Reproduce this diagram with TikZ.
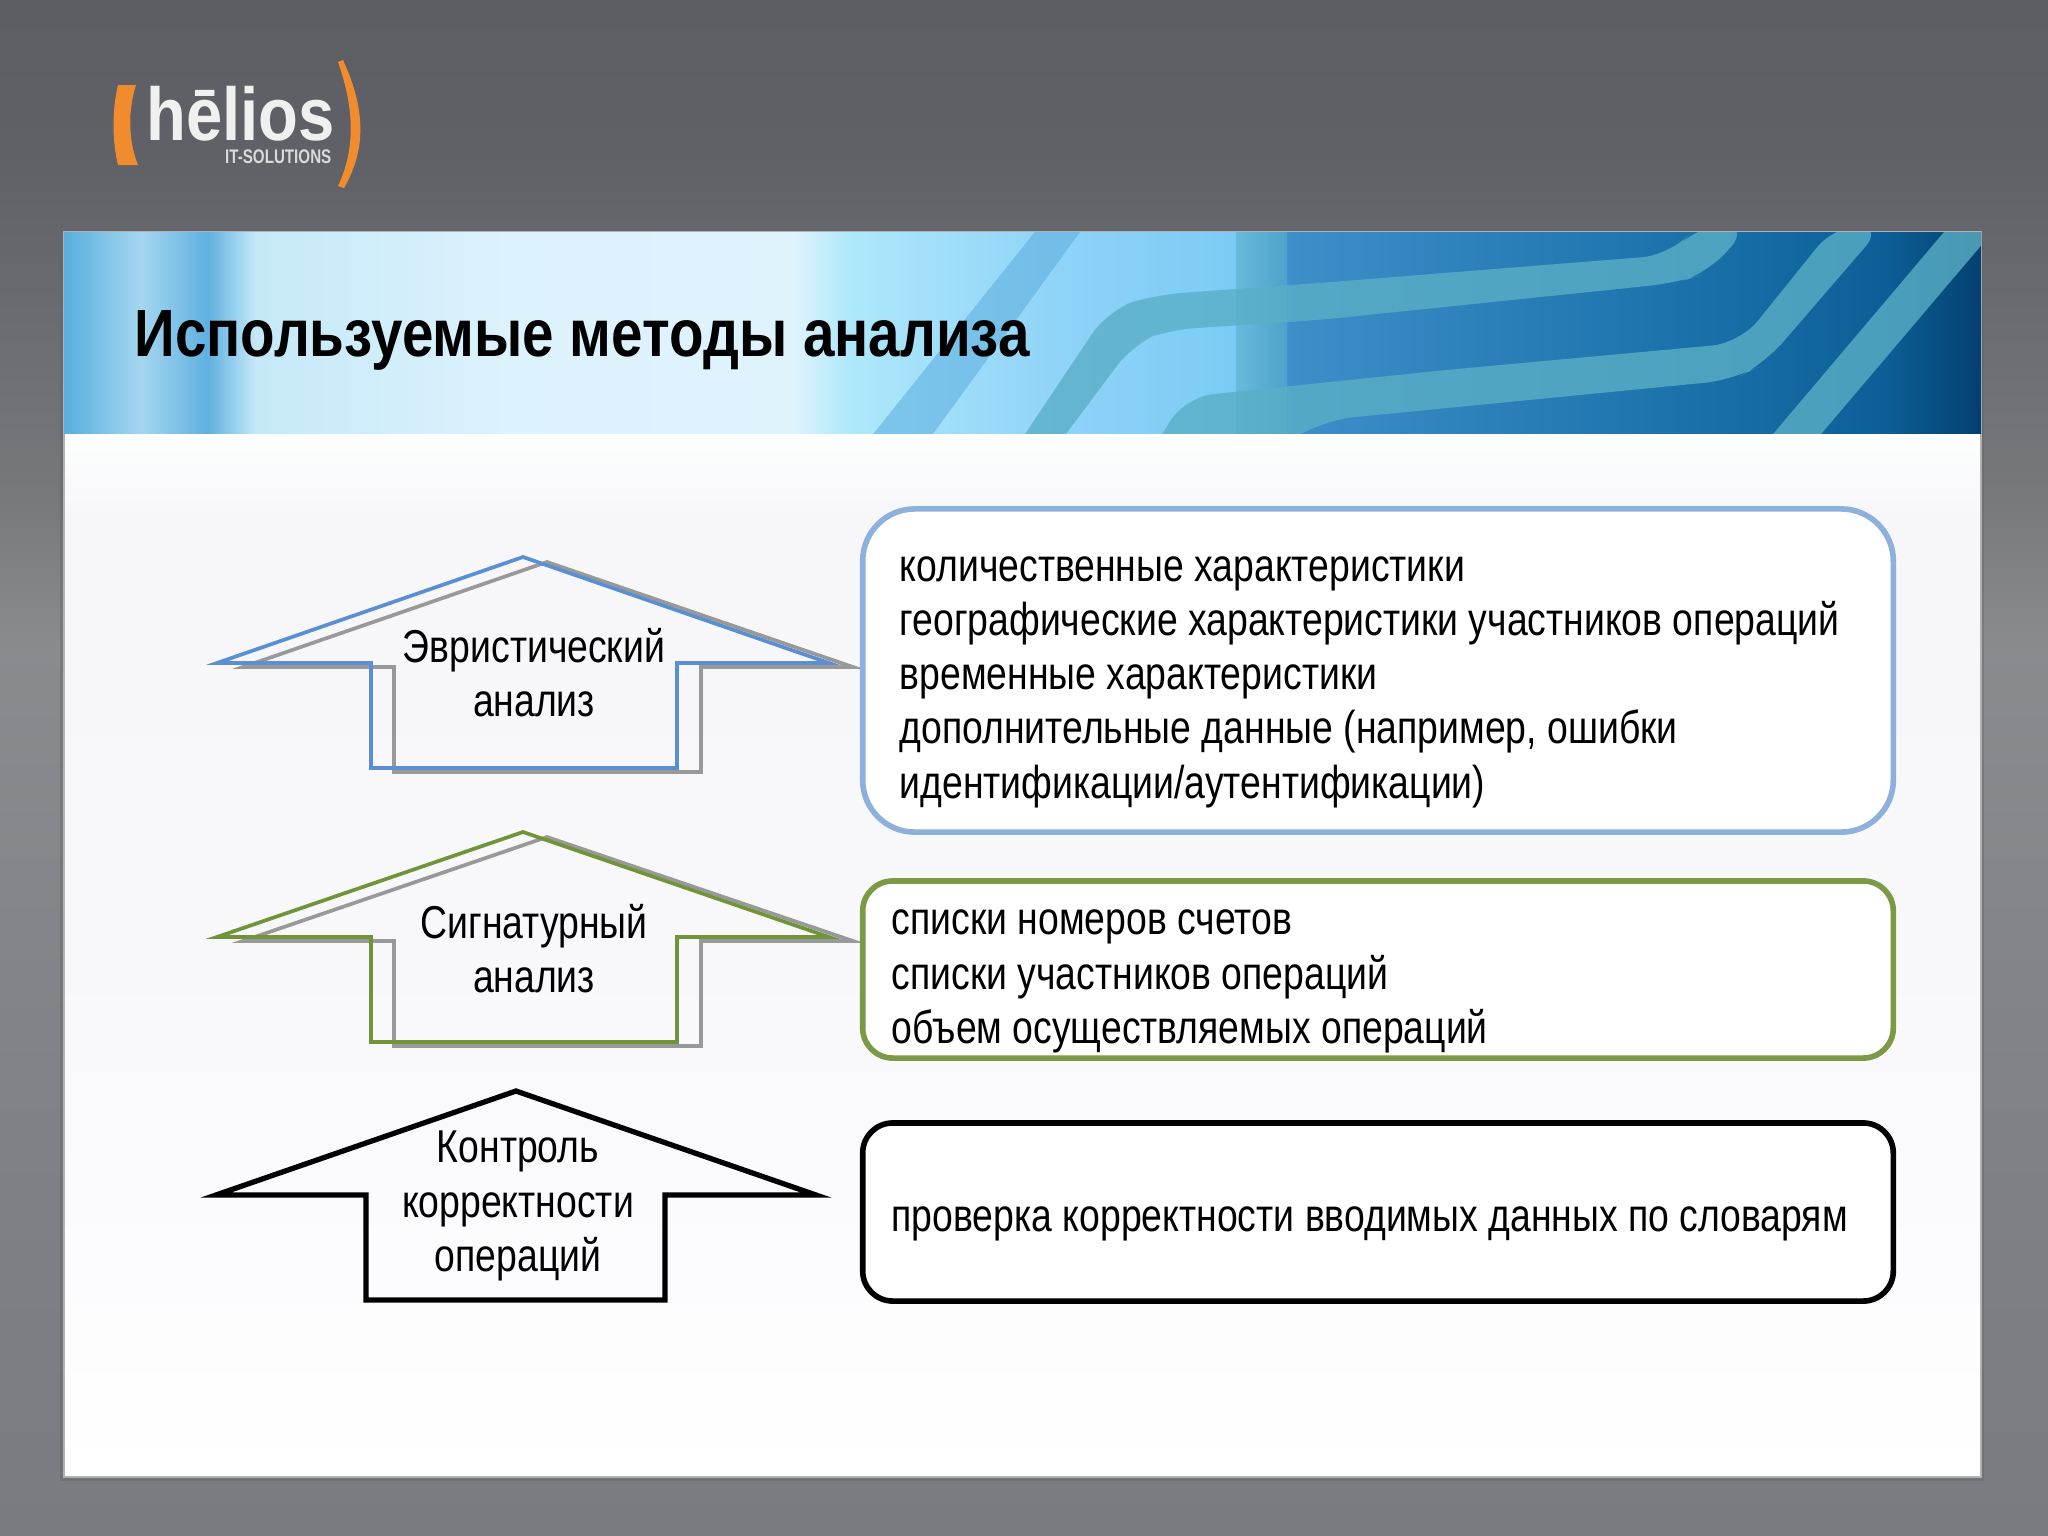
\documentclass[tikz,border=0pt]{standalone}
\usepackage{fontspec}
\setmainfont{Liberation Sans}
\newfontfamily\narrowfont[FakeStretch=0.811]{Liberation Sans}
\newfontfamily\titlefont[FakeStretch=0.846]{Liberation Sans}
\newfontfamily\logofont[FakeStretch=0.87]{Liberation Sans}
\newfontfamily\logosubfont[FakeStretch=0.77]{Liberation Sans}
\usetikzlibrary{positioning}

\definecolor{boxblue}{HTML}{8EB0DD}
\definecolor{arrowblue}{HTML}{5A8FD4}
\definecolor{boxgreen}{HTML}{7A9A45}
\definecolor{arrowgreen}{HTML}{6F9439}
\definecolor{shadowgray}{HTML}{999999}
\definecolor{logoorange}{HTML}{F08C2E}
\definecolor{bandteal}{HTML}{5AAFC6}
\definecolor{bga}{HTML}{7A7B80}
\definecolor{bgb}{HTML}{818287}
\definecolor{bgc}{HTML}{8A8B8F}
\definecolor{bgd}{HTML}{77787C}
\definecolor{bge}{HTML}{606166}
\definecolor{bgf}{HTML}{5C5E63}
\definecolor{pna}{HTML}{FCFCFE}
\definecolor{pnb}{HTML}{F8F8FA}
\definecolor{pnc}{HTML}{F7F7F9}
\definecolor{pnd}{HTML}{FDFEFE}
\definecolor{bna}{HTML}{58AEDD}
\definecolor{bnb}{HTML}{A5D6F0}
\definecolor{bnc}{HTML}{5FB0E0}
\definecolor{bnd}{HTML}{C5E9F8}
\definecolor{bne}{HTML}{DCF2FC}
\definecolor{bnf}{HTML}{DFF3FD}
\definecolor{bng}{HTML}{AEE8FA}
\definecolor{bnh}{HTML}{8FD3F8}
\definecolor{bni}{HTML}{7CCBF5}
\definecolor{bnj}{HTML}{3D8FCA}
\definecolor{bnk}{HTML}{1A71AA}
\definecolor{bnl}{HTML}{0C5F96}
\definecolor{bnm}{HTML}{044070}

\pgfdeclareverticalshading{slidebg}{100bp}{
	color(0bp)=(bga); color(25bp)=(bga); color(40bp)=(bgb); color(54bp)=(bgc);
	color(59bp)=(bgd); color(70bp)=(bge); color(75bp)=(bgf); color(100bp)=(bgf)}
\pgfdeclareverticalshading{panelbg}{100bp}{
	color(0bp)=(white); color(25bp)=(white); color(35bp)=(pna); color(50bp)=(pnb);
	color(71bp)=(pnc); color(75bp)=(pnd); color(100bp)=(pnd)}
\pgfdeclarehorizontalshading{bannerbg}{100bp}{
	color(0bp)=(bna); color(25bp)=(bna); color(27bp)=(bnb); color(28.75bp)=(bnc); color(30bp)=(bnd);
	color(36.5bp)=(bne); color(44bp)=(bnf); color(45.5bp)=(bng); color(51bp)=(bnh);
	color(55.5bp)=(bni); color(57bp)=(bnj); color(67.5bp)=(bnk); color(72.5bp)=(bnl);
	color(75bp)=(bnm); color(100bp)=(bnm)}

\tikzset{
	infobox/.style={draw=#1,fill=white,line width=1.6pt,minimum width=10.3cm},
	listtext/.style={anchor=west,inner sep=0pt,align=left,font=\narrowfont\fontsize{13.1}{15.42}\selectfont},
	arrowtext/.style={inner sep=0pt,align=center,font=\narrowfont\fontsize{13.1}{15.42}\selectfont},
	thinarrow/.style={draw=#1,line width=1.05pt,miter limit=20},
	band/.style={fill=bandteal,opacity=0.8,rounded corners=8pt}
}

\begin{document}
\begin{tikzpicture}[x=0.01cm,y=-0.01cm]
	\useasboundingbox (0,0) rectangle (2048,1536);
	\shade[shading=slidebg] (0,0) rectangle (2048,1536);

	% logo
	\fill[logoorange] (118,85) -- (136,85) .. controls (128,110) and (128,140) .. (138,165) -- (118,165) .. controls (112,140) and (112,110) .. (118,85) -- cycle;
	\fill[logoorange] (343,60) .. controls (366,110) and (366,150) .. (344,188) -- (338,186) .. controls (355,150) and (355,110) .. (338,62) -- cycle;
	\node[anchor=base west,inner sep=0pt,text=white!94!black,font=\logofont\bfseries\fontsize{21.3}{24}\selectfont] (logoname) at (146,140) {hēlios};
	\node[anchor=base east,inner sep=0pt,text=white!85!black,font=\logosubfont\bfseries\fontsize{5.6}{7}\selectfont] (logosub) at (332,163) {IT-SOLUTIONS};

	% panel and banner
	\fill[black!60,opacity=0.45] (60,232) rectangle (1984,1481);
	\shade[shading=panelbg] (64,433) rectangle (1981,1477);
	\draw[black!30,line width=0.6pt] (64,232) rectangle (1981,1477);
	\shade[shading=bannerbg] (64,232) rectangle (1981,433);
	\begin{scope}
		\clip (64,232) rectangle (1981,433);
		\fill[bnc,opacity=0.6] (1038,228) -- (1083,228) -- (930,438) -- (870,438) -- cycle;
		\fill[bandteal,opacity=0.5] (1236,228) rectangle (1287,438);
		\fill[band] (1698,225) -- (1750,225) -- (1708,273) -- (1676,283) -- (1319,320) -- (1166,330) -- (1134,343) -- (1039,470) -- (1001,470) -- (1108,310) -- (1153,295) -- (1319,283) -- (1670,255) -- cycle;
		\fill[band] (1835,225) -- (1884,225) -- (1765,363) -- (1733,380) -- (1325,420) -- (1240,470) -- (1140,470) -- (1185,397) -- (1446,370) -- (1740,343) -- cycle;
		\fill[band,rounded corners=0pt] (1950,225) -- (1990,225) -- (1990,235) -- (1816,440) -- (1768,440) -- cycle;
	\end{scope}
	\node[anchor=base west,inner sep=0pt,font=\titlefont\bfseries\fontsize{19}{23}\selectfont] (title) at (134,356) {Используемые методы анализа};

	% first arrow and box
	\draw[thinarrow=shadowgray] (243,667) -- (547,562) -- (853,667) -- (701,667) -- (701,772) -- (394,772) -- (394,667) -- cycle;
	\draw[thinarrow=arrowblue] (217,663) -- (523,557) -- (829,663) -- (677,663) -- (677,768) -- (371,768) -- (371,663) -- cycle;
	\node[arrowtext] (heuristic) at (534,672.5) {Эвристический\\анализ};
	\node[infobox=boxblue,rounded corners=0.52cm,minimum height=3.23cm] (heurbox) at (1378,670.5) {};
	\node[listtext] (heurlist) at (899,682) {количественные характеристики\\географические характеристики участников операций\\временные характеристики\\дополнительные данные (например, ошибки\\идентификации/аутентификации)};

	% second arrow and box
	\draw[thinarrow=shadowgray] (243,941) -- (547,837) -- (853,941) -- (701,941) -- (701,1046) -- (394,1046) -- (394,941) -- cycle;
	\draw[thinarrow=arrowgreen] (217,937) -- (523,832) -- (829,937) -- (677,937) -- (677,1042) -- (371,1042) -- (371,937) -- cycle;
	\node[arrowtext] (signature) at (534,948.5) {Сигнатурный\\анализ};
	\node[infobox=boxgreen,rounded corners=0.3cm,minimum height=1.77cm] (signbox) at (1378,969.5) {};
	\node[listtext] (signlist) at (891,981.5) {списки номеров счетов\\списки участников операций\\объем осуществляемых операций};

	% third arrow and box
	\draw[draw=black,line width=1.5pt,miter limit=20] (216,1195) -- (516,1091) -- (816,1195) -- (665,1195) -- (665,1300) -- (366,1300) -- (366,1195) -- cycle;
	\node[arrowtext] (control) at (518,1206) {Контроль\\корректности\\операций};
	\node[infobox=black,rounded corners=0.3cm,minimum height=1.78cm] (controlbox) at (1378,1212) {};
	\node[listtext] (controllist) at (891,1223.5) {проверка корректности вводимых данных по словарям};
\end{tikzpicture}
\end{document}
